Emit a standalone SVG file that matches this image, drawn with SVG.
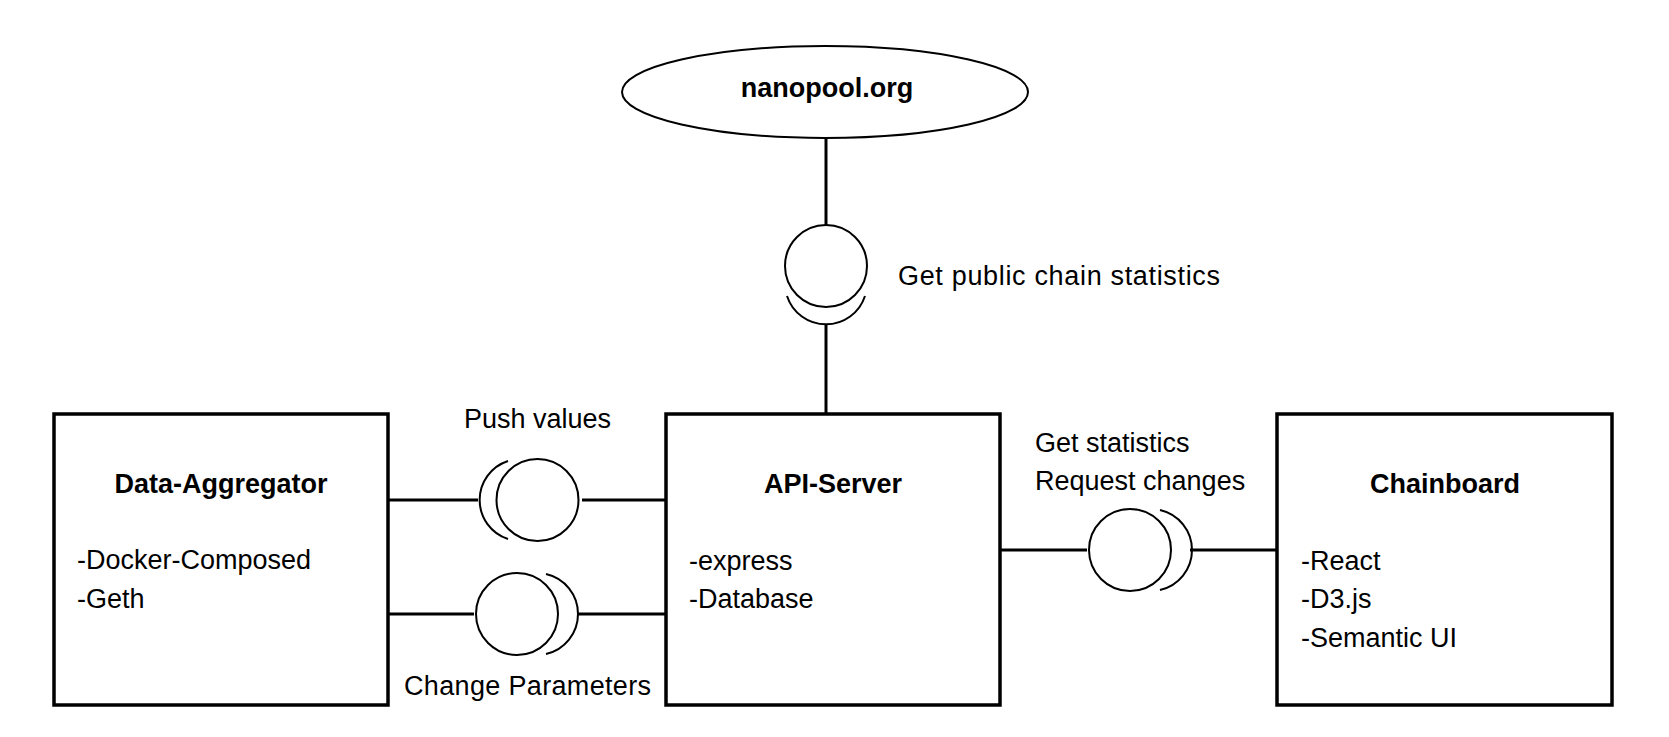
<svg xmlns="http://www.w3.org/2000/svg" width="1669" height="737" viewBox="0 0 1669 737">
<style>
.box{fill:#fff;stroke:#000;stroke-width:3.5}
.ell{fill:#fff;stroke:#000;stroke-width:2}
.ball{fill:#fff;stroke:#000;stroke-width:2}
.sock{fill:none;stroke:#000;stroke-width:2}
.ln{stroke:#000;stroke-width:3;fill:none}
text{font-family:"Liberation Sans",Arial,sans-serif;font-size:27px;fill:#000}
.b{font-weight:bold}
.c{text-anchor:middle}
</style>
<rect width="1669" height="737" fill="#fff"/>
<g id="connectors">
<line class="ln" x1="826" y1="138" x2="826" y2="225"/>
<line class="ln" x1="826" y1="325" x2="826" y2="414"/>
<line class="ln" x1="388" y1="500" x2="478" y2="500"/>
<line class="ln" x1="582" y1="500" x2="666" y2="500"/>
<line class="ln" x1="388" y1="614" x2="474" y2="614"/>
<line class="ln" x1="577" y1="614" x2="666" y2="614"/>
<line class="ln" x1="1000" y1="550" x2="1087" y2="550"/>
<line class="ln" x1="1190" y1="550" x2="1277" y2="550"/>
<g id="iface-public">
<circle class="ball" cx="826" cy="266" r="41"/>
<path class="sock" d="M787,296 A41,41 0 0 0 865,296"/>
<text x="898" y="285" textLength="322">Get public chain statistics</text>
</g>
<g id="iface-push">
<circle class="ball" cx="537.5" cy="500" r="41"/>
<path class="sock" d="M508,461 A41,41 0 0 0 508,539"/>
<text x="464" y="428">Push values</text>
</g>
<g id="iface-change">
<circle class="ball" cx="517" cy="614" r="41"/>
<path class="sock" d="M546,574 A41,41 0 0 1 546,654"/>
<text x="404" y="695" textLength="247">Change Parameters</text>
</g>
<g id="iface-stats">
<circle class="ball" cx="1130" cy="550" r="41"/>
<path class="sock" d="M1160,510 A41,41 0 0 1 1160,590"/>
<text x="1035" y="452">Get statistics</text>
<text x="1035" y="490">Request changes</text>
</g>
</g>
<g id="nanopool">
<ellipse class="ell" cx="825" cy="92" rx="203" ry="46"/>
<text class="b c" x="827" y="97">nanopool.org</text>
</g>
<g id="data-aggregator">
<rect class="box" x="54" y="414" width="334" height="291"/>
<text class="b c" x="221" y="493">Data-Aggregator</text>
<text x="77" y="569">-Docker-Composed</text>
<text x="77" y="608">-Geth</text>
</g>
<g id="api-server">
<rect class="box" x="666" y="414" width="334" height="291"/>
<text class="b c" x="833" y="493">API-Server</text>
<text x="689" y="570">-express</text>
<text x="689" y="608">-Database</text>
</g>
<g id="chainboard">
<rect class="box" x="1277" y="414" width="335" height="291"/>
<text class="b c" x="1445" y="493">Chainboard</text>
<text x="1301" y="570">-React</text>
<text x="1301" y="608">-D3.js</text>
<text x="1301" y="647">-Semantic UI</text>
</g>
</svg>
